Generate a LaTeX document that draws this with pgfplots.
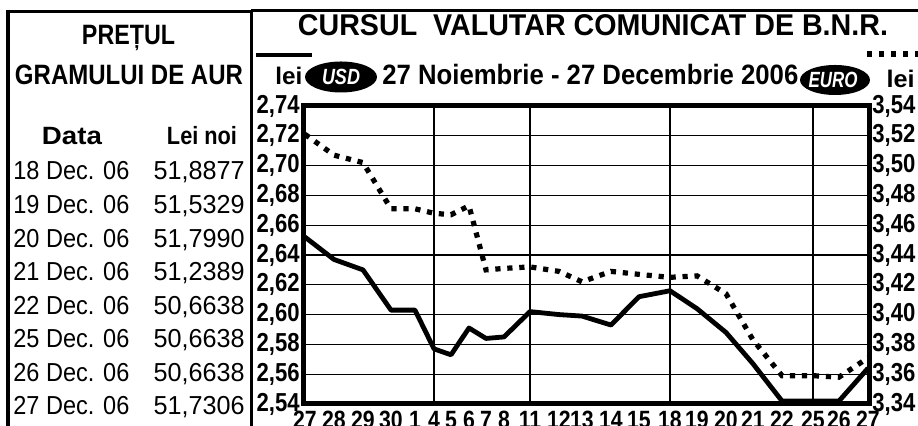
\documentclass[border=0pt]{standalone}
\usepackage{pgfplots}
\pgfplotsset{compat=1.18}
\usepackage{fontspec}
\setmainfont{Liberation Sans}
\newfontfamily\cond[FakeStretch=0.85]{Liberation Sans}
\usepackage{graphicx}
\newcommand{\fitw}[2]{\resizebox{#1}{\height}{#2}}
\newcommand{\hfont}{\fontsize{14}{16}\selectfont\bfseries}
\newcommand{\rfont}{\fontsize{13}{15}\selectfont}

\pgfplotstableread{
pos usd
305 2.652
334 2.637
363 2.630
391 2.603
415 2.603
434 2.577
451 2.573
469 2.591
486 2.584
504 2.585
530 2.602
559 2.600
582 2.599
611 2.593
639 2.612
670 2.616
697 2.604
726 2.588
753 2.567
782 2.542
813 2.542
839 2.542
868 2.564
}\usdtable

\pgfplotstableread{
pos euro
305 3.521
334 3.507
363 3.502
391 3.471
415 3.471
434 3.468
451 3.467
469 3.473
486 3.430
504 3.431
530 3.432
559 3.429
582 3.422
611 3.429
639 3.427
670 3.425
697 3.426
726 3.414
753 3.383
782 3.359
813 3.359
839 3.358
868 3.371
}\eurotable

\begin{document}
\begin{tikzpicture}[x=0.5pt,y=0.5pt]
% frames
\draw[line width=1.5pt] (8,-20) -- (8,426-12) -- (251,426-12) -- (251,-20);
\draw[line width=1.5pt] (251,426-11) -- (925,426-11);

% left panel text
\node[anchor=base,inner sep=0] at (128.5,426-45) {\hfont\fitw{46.5pt}{PREȚUL}};
\node[anchor=base,inner sep=0] at (129,426-85) {\hfont\fitw{114pt}{GRAMULUI DE AUR}};
\node[anchor=base,inner sep=0] at (72,426-145) {\fontsize{12.5}{14}\selectfont\bfseries\fitw{30pt}{Data}};
\node[anchor=base,inner sep=0] at (202,426-145) {\fontsize{12.5}{14}\selectfont\bfseries\fitw{35pt}{Lei noi}};

\node[anchor=base west,inner sep=0] at (13,426-180) {\rfont\fitw{58pt}{18 Dec. 06}};
\node[anchor=base west,inner sep=0] at (13,426-213.6) {\rfont\fitw{58pt}{19 Dec. 06}};
\node[anchor=base west,inner sep=0] at (13,426-247.1) {\rfont\fitw{58pt}{20 Dec. 06}};
\node[anchor=base west,inner sep=0] at (13,426-280.7) {\rfont\fitw{58pt}{21 Dec. 06}};
\node[anchor=base west,inner sep=0] at (13,426-314.3) {\rfont\fitw{58pt}{22 Dec. 06}};
\node[anchor=base west,inner sep=0] at (13,426-347.9) {\rfont\fitw{58pt}{25 Dec. 06}};
\node[anchor=base west,inner sep=0] at (13,426-381.4) {\rfont\fitw{58pt}{26 Dec. 06}};
\node[anchor=base west,inner sep=0] at (13,426-415) {\rfont\fitw{58pt}{27 Dec. 06}};

\node[anchor=base east,inner sep=0] at (245,426-180) {\rfont\fitw{45.5pt}{51,8877}};
\node[anchor=base east,inner sep=0] at (245,426-213.6) {\rfont\fitw{45.5pt}{51,5329}};
\node[anchor=base east,inner sep=0] at (245,426-247.1) {\rfont\fitw{45.5pt}{51,7990}};
\node[anchor=base east,inner sep=0] at (245,426-280.7) {\rfont\fitw{45.5pt}{51,2389}};
\node[anchor=base east,inner sep=0] at (245,426-314.3) {\rfont\fitw{45.5pt}{50,6638}};
\node[anchor=base east,inner sep=0] at (245,426-347.9) {\rfont\fitw{45.5pt}{50,6638}};
\node[anchor=base east,inner sep=0] at (245,426-381.4) {\rfont\fitw{45.5pt}{50,6638}};
\node[anchor=base east,inner sep=0] at (245,426-415) {\rfont\fitw{45.5pt}{51,7306}};

% right panel header
\node[anchor=base,inner sep=0] at (593,426-36) {\fontsize{15}{17}\selectfont\bfseries\fitw{295pt}{CURSUL\ \ VALUTAR COMUNICAT DE B.N.R.}};
\draw[line width=2pt] (256,426-55) -- (312,426-55);
\draw[line width=2.6pt, dash pattern=on 2.6pt off 3.4pt] (867,426-54) -- (920,426-54);
\node[anchor=base west,inner sep=0] at (275,426-85) {\fontsize{12}{13}\selectfont\bfseries\fitw{13.5pt}{lei}};
\node[anchor=base east,inner sep=0] at (915,426-88) {\fontsize{12}{13}\selectfont\bfseries\fitw{14pt}{lei}};
\fill (341,426-77) ellipse [x radius=18pt, y radius=7.75pt];
\node[text=white,inner sep=0] at (341,426-77) {\fontsize{11}{12}\selectfont\bfseries\itshape\fitw{19pt}{USD}};
\fill (835,426-80) ellipse [x radius=17.5pt, y radius=7.5pt];
\node[text=white,inner sep=0] at (833,426-80) {\fontsize{11}{12}\selectfont\bfseries\itshape\fitw{24.5pt}{EURO}};
\node[anchor=base west,inner sep=0] at (382,426-85) {\fontsize{14}{16}\selectfont\bfseries\fitw{208pt}{27 Noiembrie - 27 Decembrie 2006}};

% left axis (USD)
\begin{axis}[
  at={(151.5pt,11pt)}, anchor=south west,
  scale only axis, width=283pt, height=149pt,
  xmin=303, xmax=869, ymin=2.54, ymax=2.74,
  axis line style={line width=2.5pt},
  major tick length=0pt,
  xtick={305,334,363,391,415,434,451,469,486,504,530,559,582,611,639,670,697,726,753,782,813,839,868},
  xticklabels={27,28,29,30,1,4,5,6,7,8,11,12,13,14,15,18,19,20,21,22,25,26,27},
  xticklabel style={font=\cond\fontsize{12.5}{13}\selectfont\bfseries, anchor=north, inner sep=0pt, yshift=-3.5pt},
  extra x ticks={434,530,670,813},
  extra x tick labels={},
  extra x tick style={grid=major, major grid style={line width=0.6pt, black}},
  ytick={2.54,2.56,...,2.75},
  ymajorgrids=true,
  major grid style={line width=0.6pt, black},
  yticklabel style={font=\cond\fontsize{13}{14}\selectfont\bfseries, anchor=east, inner sep=0pt, xshift=-1.5pt},
  /pgf/number format/.cd, fixed, fixed zerofill, precision=2, use comma, assume math mode=true,
]
\addplot[line width=2.4pt, black, line join=round] table[x=pos,y=usd] {\usdtable};
\end{axis}

% right axis (EURO)
\begin{axis}[
  at={(151.5pt,11pt)}, anchor=south west,
  scale only axis, width=283pt, height=149pt,
  xmin=303, xmax=869, ymin=3.34, ymax=3.54,
  axis x line=none, axis y line*=right,
  axis line style={line width=2.5pt},
  major tick length=0pt,
  ytick={3.34,3.36,...,3.55},
  yticklabel style={font=\cond\fontsize{13}{14}\selectfont\bfseries, anchor=west, inner sep=0pt, xshift=1.5pt},
  /pgf/number format/.cd, fixed, fixed zerofill, precision=2, use comma, assume math mode=true,
]
\addplot[line width=2.6pt, black, dash pattern=on 2.6pt off 3.4pt] table[x=pos,y=euro] {\eurotable};
\end{axis}

\pgfresetboundingbox
\useasboundingbox (0,0) rectangle (918,426);
\end{tikzpicture}
\end{document}
